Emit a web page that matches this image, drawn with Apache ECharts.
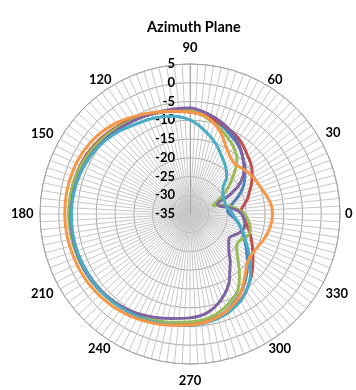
<!DOCTYPE html>
<html><head><meta charset="utf-8">
<script src="https://cdn.jsdelivr.net/npm/echarts@6/dist/echarts.min.js"></script>
<style>html,body{margin:0;padding:0;background:#fff}#c{width:356px;height:390px}</style>
</head><body><div id="c"></div>
<script>
const titleText = 'Azimuth Plane';
const angleTicks = [0,30,60,90,120,150,180,210,240,270,300,330];
const radiusTicks = [-35,-30,-25,-20,-15,-10,-5,0,5];
const angles = [0,5,10,15,20,25,30,35,40,45,50,55,60,70,80,90,100,110,120,130,140,150,160,170,180,190,200,210,220,230,240,250,260,270,280,290,300,305,310,315,320,325,330,335,340,345,350,355];
const blueVals   = [-24.5,-25.0,-24.2,-23.0,-21.3,-19.7,-18.3,-17.1,-15.8,-14.8,-13.6,-12.6,-11.8,-10.0,-8.6,-7.6,-7.2,-6.5,-5.8,-4.9,-4.1,-3.6,-3.3,-3.1,-3.1,-3.2,-3.3,-3.5,-3.7,-4.1,-4.6,-5.0,-5.4,-5.7,-6.2,-7.3,-9.4,-10.6,-12.0,-13.5,-15.0,-16.5,-17.8,-19.0,-20.0,-21.0,-22.0,-23.2];
const redVals    = [-21.0,-21.2,-20.3,-19.1,-18.2,-17.0,-15.9,-14.8,-13.9,-13.2,-12.3,-11.4,-10.7,-9.6,-8.6,-7.8,-7.2,-6.5,-5.6,-4.6,-3.8,-3.2,-2.9,-2.8,-2.8,-2.9,-3.1,-3.3,-3.6,-4.0,-4.5,-5.0,-5.4,-5.8,-6.1,-6.8,-8.3,-9.3,-10.6,-11.8,-13.2,-14.5,-15.7,-16.8,-17.8,-18.8,-19.7,-20.5];
const greenVals  = [-20.4,-22.0,-23.8,-25.8,-28.6,-27.0,-24.8,-22.5,-20.3,-17.8,-15.5,-14.2,-13.0,-11.0,-9.0,-7.3,-7.0,-6.5,-5.8,-4.9,-4.1,-3.5,-3.0,-2.7,-2.6,-2.7,-2.9,-3.1,-3.4,-3.9,-4.5,-5.1,-5.7,-6.2,-6.8,-8.3,-10.4,-12.2,-14.5,-16.8,-18.6,-19.8,-20.1,-19.5,-18.5,-18.3,-18.8,-19.6];
const purpleVals = [-21.2,-22.6,-24.8,-26.8,-27.2,-23.8,-20.2,-17.8,-16.2,-14.9,-13.6,-12.3,-11.1,-9.3,-7.8,-6.7,-6.6,-6.4,-6.0,-5.4,-4.8,-4.2,-3.7,-3.4,-3.2,-3.1,-3.1,-3.2,-3.5,-4.0,-4.8,-5.8,-6.7,-7.3,-8.3,-10.7,-14.1,-16.5,-18.3,-20.3,-21.5,-22.4,-22.7,-21.8,-20.8,-20.1,-20.2,-20.6];
const tealVals   = [-23.6,-24.2,-25.0,-25.2,-25.2,-25.1,-24.8,-24.3,-23.4,-21.2,-19.9,-18.8,-17.7,-15.0,-12.4,-9.9,-8.5,-7.7,-7.1,-6.0,-5.0,-4.3,-3.8,-3.5,-3.4,-3.3,-3.3,-3.4,-3.5,-3.8,-4.2,-4.6,-5.0,-5.3,-5.8,-6.6,-8.1,-9.3,-10.6,-12.2,-14.0,-15.7,-17.3,-18.7,-19.7,-21.0,-22.0,-22.9];
const orangeVals = [-13.0,-13.1,-13.6,-14.2,-14.8,-15.2,-15.5,-15.9,-16.4,-16.9,-17.0,-16.3,-15.2,-11.6,-8.8,-7.8,-7.2,-6.2,-5.0,-3.6,-2.6,-2.0,-1.7,-1.6,-1.6,-1.7,-1.9,-2.1,-2.4,-2.9,-3.5,-4.2,-4.9,-5.4,-6.0,-7.2,-9.2,-10.8,-12.4,-13.9,-15.0,-15.3,-15.2,-14.9,-14.3,-13.8,-13.4,-13.1];
const seriesList = [
  {name:'Series1', values: blueVals,   color:'#4F81BD'},
  {name:'Series2', values: redVals,    color:'#C0504D'},
  {name:'Series3', values: greenVals,  color:'#9BBB59'},
  {name:'Series4', values: purpleVals, color:'#8064A2'},
  {name:'Series5', values: tealVals,   color:'#4BACC6'},
  {name:'Series6', values: orangeVals, color:'#F79646'}
];

const rMin = radiusTicks[0], rMax = radiusTicks[radiusTicks.length-1];
const FONT = 'Lato, "Open Sans", sans-serif';
// per-label padding [top,right,bottom,left] to mimic the reference label placement
const labelPad = {0:[0,0,0,9],30:[0,0,1.5,9],60:[0,0,1,4.5],90:[0,0,13.5,0],120:[0,5.5,1,0],150:[0,10,0.5,0],
  180:[0,10.5,0,0],210:[0,10,0,0],240:[2,6.5,0,0],270:[14.5,0,0,0],300:[2,0,0,5.5],330:[0,0,0,9]};
const rich = {};
angleTicks.forEach(t => { rich['l'+t] = {padding: labelPad[t], fontFamily: FONT, fontWeight:'bold', fontSize:13, color:'#000'}; });

const chart = echarts.init(document.getElementById('c'), null, {renderer:'canvas'});
const option = {
  animation: false,
  backgroundColor: '#ffffff',
  title: {text: titleText, left: 142, top: 15, textStyle:{fontFamily: FONT, fontWeight:'bold', fontSize:14.5, color:'#000'}},
  polar: [
    {center:[190,214], radius:150},
    {center:[190,214], radius:150}
  ],
  angleAxis: [
    {polarIndex:0, type:'value', min:0, max:360, interval:3, startAngle:0, clockwise:false,
     axisLine:{show:true, lineStyle:{color:'#a6a6a6', width:1}},
     axisTick:{show:false}, axisLabel:{show:false},
     splitLine:{show:true, lineStyle:{color:'#c8c8c8', width:1}}},
    {polarIndex:1, type:'value', min:90, max:450, interval:30, startAngle:90, clockwise:false,
     axisLine:{show:false}, axisTick:{show:false}, splitLine:{show:false},
     axisLabel:{show:true, margin:-4, fontFamily: FONT, fontWeight:'bold', fontSize:13, color:'#000',
       formatter: v => { const t = v % 360; return '{l' + t + '|' + t + '}'; }, rich: rich}}
  ],
  radiusAxis: [
    {polarIndex:0, type:'value', min:rMin, max:rMax, interval:5,
     axisLine:{show:false}, axisTick:{show:false}, axisLabel:{show:false},
     splitLine:{show:true, lineStyle:{color:'#a6a6a6', width:1}}},
    {polarIndex:1, type:'value', min:rMin, max:rMax, interval:5,
     axisLine:{show:true, lineStyle:{color:'#a6a6a6', width:1}}, axisTick:{show:false}, splitLine:{show:false},
     axisLabel:{show:true, margin:15, fontFamily: FONT, fontWeight:'bold', fontSize:13, color:'#000'}}
  ],
  series: seriesList.map(s => ({
    name: s.name, type:'line', coordinateSystem:'polar', polarIndex:0,
    showSymbol:false, symbol:'none', smooth:0.3,
    lineStyle:{color:s.color, width:3},
    data: angles.map((a,i) => [s.values[i], a]).concat([[s.values[0], 360]])
  }))
};
chart.setOption(option);
</script></body></html>
